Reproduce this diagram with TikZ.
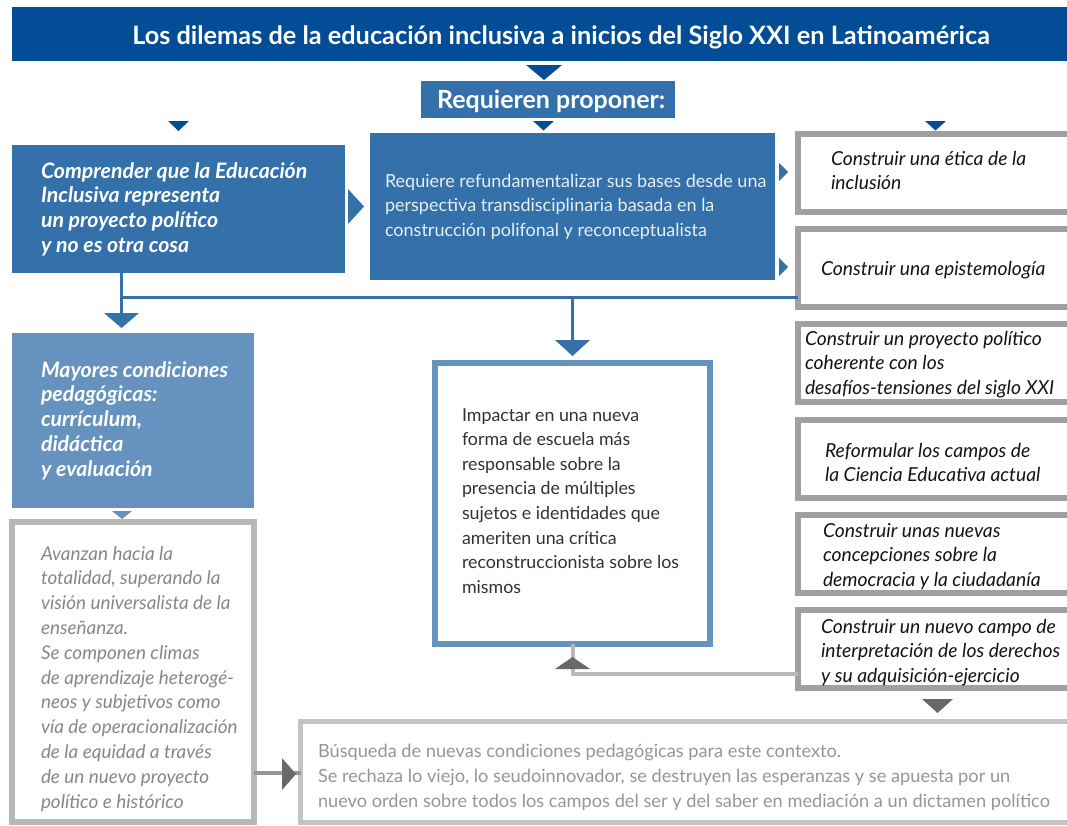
\documentclass[tikz,border=0pt]{standalone}
\usepackage{fontspec}
\setmainfont{Lato}
\usetikzlibrary{calc}
\definecolor{dblue}{RGB}{3,77,150}
\definecolor{mblue}{RGB}{52,112,169}
\definecolor{lblue}{RGB}{101,146,190}
\definecolor{gborder}{RGB}{160,160,160}
\definecolor{gborder2}{RGB}{184,184,184}
\definecolor{gborder3}{RGB}{195,195,195}
\definecolor{garrow}{RGB}{105,105,105}
\definecolor{gline}{RGB}{150,150,150}
\definecolor{gline2}{RGB}{185,185,185}
\definecolor{gtext}{RGB}{135,135,135}
\definecolor{gtext2}{RGB}{150,150,150}
\definecolor{dtext}{RGB}{50,50,50}
\definecolor{rtext}{RGB}{20,20,20}
\begin{document}
\begin{tikzpicture}[x=1pt,y=-1pt,
  fbox/.style={inner sep=0pt, outer sep=0pt, anchor=north west},
  obox/.style={fbox, draw, fill=white},
  lbl/.style={inner sep=0pt, outer sep=0pt, anchor=base west, align=left},
  bline/.style={draw=mblue, line width=3pt},
  gconn/.style={draw=gline, line width=4pt},
  gconn2/.style={draw=gline2, line width=4pt},
  boldw/.style={text=white, font=\fontsize{21.3}{24.8}\selectfont\bfseries\itshape},
  ritxt/.style={text=rtext, font=\fontsize{19.3}{24.6}\selectfont\itshape},
]
\useasboundingbox (0,0) rectangle (1067,825);

% ---------- boxes ----------
\node[fbox, fill=dblue, minimum width=1060pt, minimum height=54pt] (title) at (12,7) {};
\node[fbox, fill=mblue, minimum width=254pt, minimum height=37pt] (req) at (421,81) {};
\node[fbox, fill=mblue, minimum width=333pt, minimum height=128pt] (comp) at (12,145) {};
\node[fbox, fill=mblue, minimum width=405pt, minimum height=147pt] (refund) at (370,133) {};
\node[fbox, fill=lblue, minimum width=242pt, minimum height=175pt] (mayor) at (12,333) {};

% ---------- connectors (under boxes) ----------
\draw[bline] ($(comp.south west)+(109.5,0)$) -- ++(0,42);
\coordinate (hl) at (121.5,297);
\coordinate (vc) at (572,297);

\node[obox, draw=gborder, line width=6pt, minimum width=282pt, minimum height=78pt] (r1) at (798,134) {};
\node[obox, draw=gborder, line width=6pt, minimum width=282pt, minimum height=78pt] (r2) at (798,229) {};
\node[obox, draw=gborder, line width=6pt, minimum width=282pt, minimum height=78pt] (r3) at (798,324) {};
\node[obox, draw=gborder, line width=6pt, minimum width=282pt, minimum height=78pt] (r4) at (798,420) {};
\node[obox, draw=gborder, line width=6pt, minimum width=282pt, minimum height=78pt] (r5) at (798,515) {};
\node[obox, draw=gborder, line width=6pt, minimum width=282pt, minimum height=78pt] (r6) at (798,610) {};

\draw[bline] (hl) -- (r2.west |- hl);
\draw[bline] (vc) -- ++(0,45);

\node[obox, draw=lblue, line width=6pt, minimum width=275pt, minimum height=281pt] (imp) at (435,363) {};
\node[obox, draw=gborder2, line width=6pt, minimum width=242pt, minimum height=300pt] (av) at (12,522) {};
\node[obox, draw=gborder3, line width=5pt, minimum width=780pt, minimum height=101pt] (bus) at (300.5,721.5) {};

\coordinate (avout) at (av.east |- 0,773);
\draw[gconn] (avout) -- (bus.west |- avout);
\coordinate (r6out) at (r6.west |- 0,674);
\draw[gconn2] (r6out) -- (572.5,674) -- (imp.south -| 572.5,0);

% ---------- triangles ----------
\fill[dblue] (526,65) -- (562,65) -- (544,80) -- cycle;
\fill[dblue] (168,121) -- (189,121) -- (178.5,131) -- cycle;
\fill[dblue] (533,121) -- (554,121) -- (543.5,130.5) -- cycle;
\fill[dblue] (925,121) -- (946,121) -- (935.5,130.5) -- cycle;
\fill[mblue] (348,189) -- (364,206.5) -- (348,224) -- cycle;
\fill[mblue] (779,163) -- (788,172) -- (779,181) -- cycle;
\fill[mblue] (779,258) -- (788,267) -- (779,276) -- cycle;
\fill[mblue] (104,313) -- (139,313) -- (121.5,328) -- cycle;
\fill[mblue] (555,340) -- (590,340) -- (572.5,356) -- cycle;
\fill[lblue] (112,511) -- (132,511) -- (122,519) -- cycle;
\fill[garrow] (282,758) -- (296,774) -- (282,790) -- cycle;
\fill[garrow] (555,669) -- (590,669) -- (572.5,657) -- cycle;
\fill[garrow] (922,699) -- (953,699) -- (937.5,713) -- cycle;

% ---------- texts (base = baseline of last line) ----------
\node[lbl, anchor=base, text=white, font=\fontsize{25.3}{28}\selectfont\bfseries] (titlet) at (561,44) {Los dilemas de la educación inclusiva a inicios del Siglo XXI en Latinoamérica};
\node[lbl, text=white, font=\fontsize{25}{28}\selectfont\bfseries] (reqt) at (437,108) {Requieren proponer:};
\node[lbl, boldw] (compt) at (41,252.4) {Comprender que la Educación\\Inclusiva representa\\un proyecto político\\y no es otra cosa};
\node[lbl, text=white!88!mblue, font=\fontsize{18}{24.5}\selectfont] (refundt) at (385,236) {Requiere refundamentalizar sus bases desde una\\perspectiva transdisciplinaria basada en la\\construcción polifonal y reconceptualista};
\node[lbl, boldw] (mayort) at (41,476.2) {Mayores condiciones\\pedagógicas:\\currículum,\\didáctica\\y evaluación};

\node[lbl, ritxt] (r1t) at (831,189.6) {Construir una ética de la\\inclusión};
\node[lbl, ritxt] (r2t) at (821,275) {Construir una epistemología};
\node[lbl, ritxt] (r3t) at (805,394.2) {Construir un proyecto político\\coherente con los\\desafíos-tensiones del siglo XXI};
\node[lbl, ritxt] (r4t) at (825,481.6) {Reformular los campos de\\la Ciencia Educativa actual};
\node[lbl, ritxt] (r5t) at (823,586.2) {Construir unas nuevas\\concepciones sobre la\\democracia y la ciudadanía};
\node[lbl, ritxt] (r6t) at (821,682.2) {Construir un nuevo campo de\\interpretación de los derechos\\y su adquisición-ejercicio};

\node[lbl, text=gtext, font=\fontsize{18.9}{24.8}\selectfont\itshape] (avt) at (41,808) {Avanzan hacia la\\totalidad, superando la\\visión universalista de la\\enseñanza.\\Se componen climas\\de aprendizaje heterogé-\\neos y subjetivos como\\vía de operacionalización\\de la equidad a través\\de un nuevo proyecto\\político e histórico};
\node[lbl, text=dtext, font=\fontsize{17.8}{24.6}\selectfont] (impt) at (462,593.2) {Impactar en una nueva\\forma de escuela más\\responsable sobre la\\presencia de múltiples\\sujetos e identidades que\\ameriten una crítica\\reconstruccionista sobre los\\mismos};
\node[lbl, text=gtext2, font=\fontsize{18.2}{25}\selectfont] (bust) at (318,807) {Búsqueda de nuevas condiciones pedagógicas para este contexto.\\Se rechaza lo viejo, lo seudoinnovador, se destruyen las esperanzas y se apuesta por un\\nuevo orden sobre todos los campos del ser y del saber en mediación a un dictamen político};
\end{tikzpicture}
\end{document}
